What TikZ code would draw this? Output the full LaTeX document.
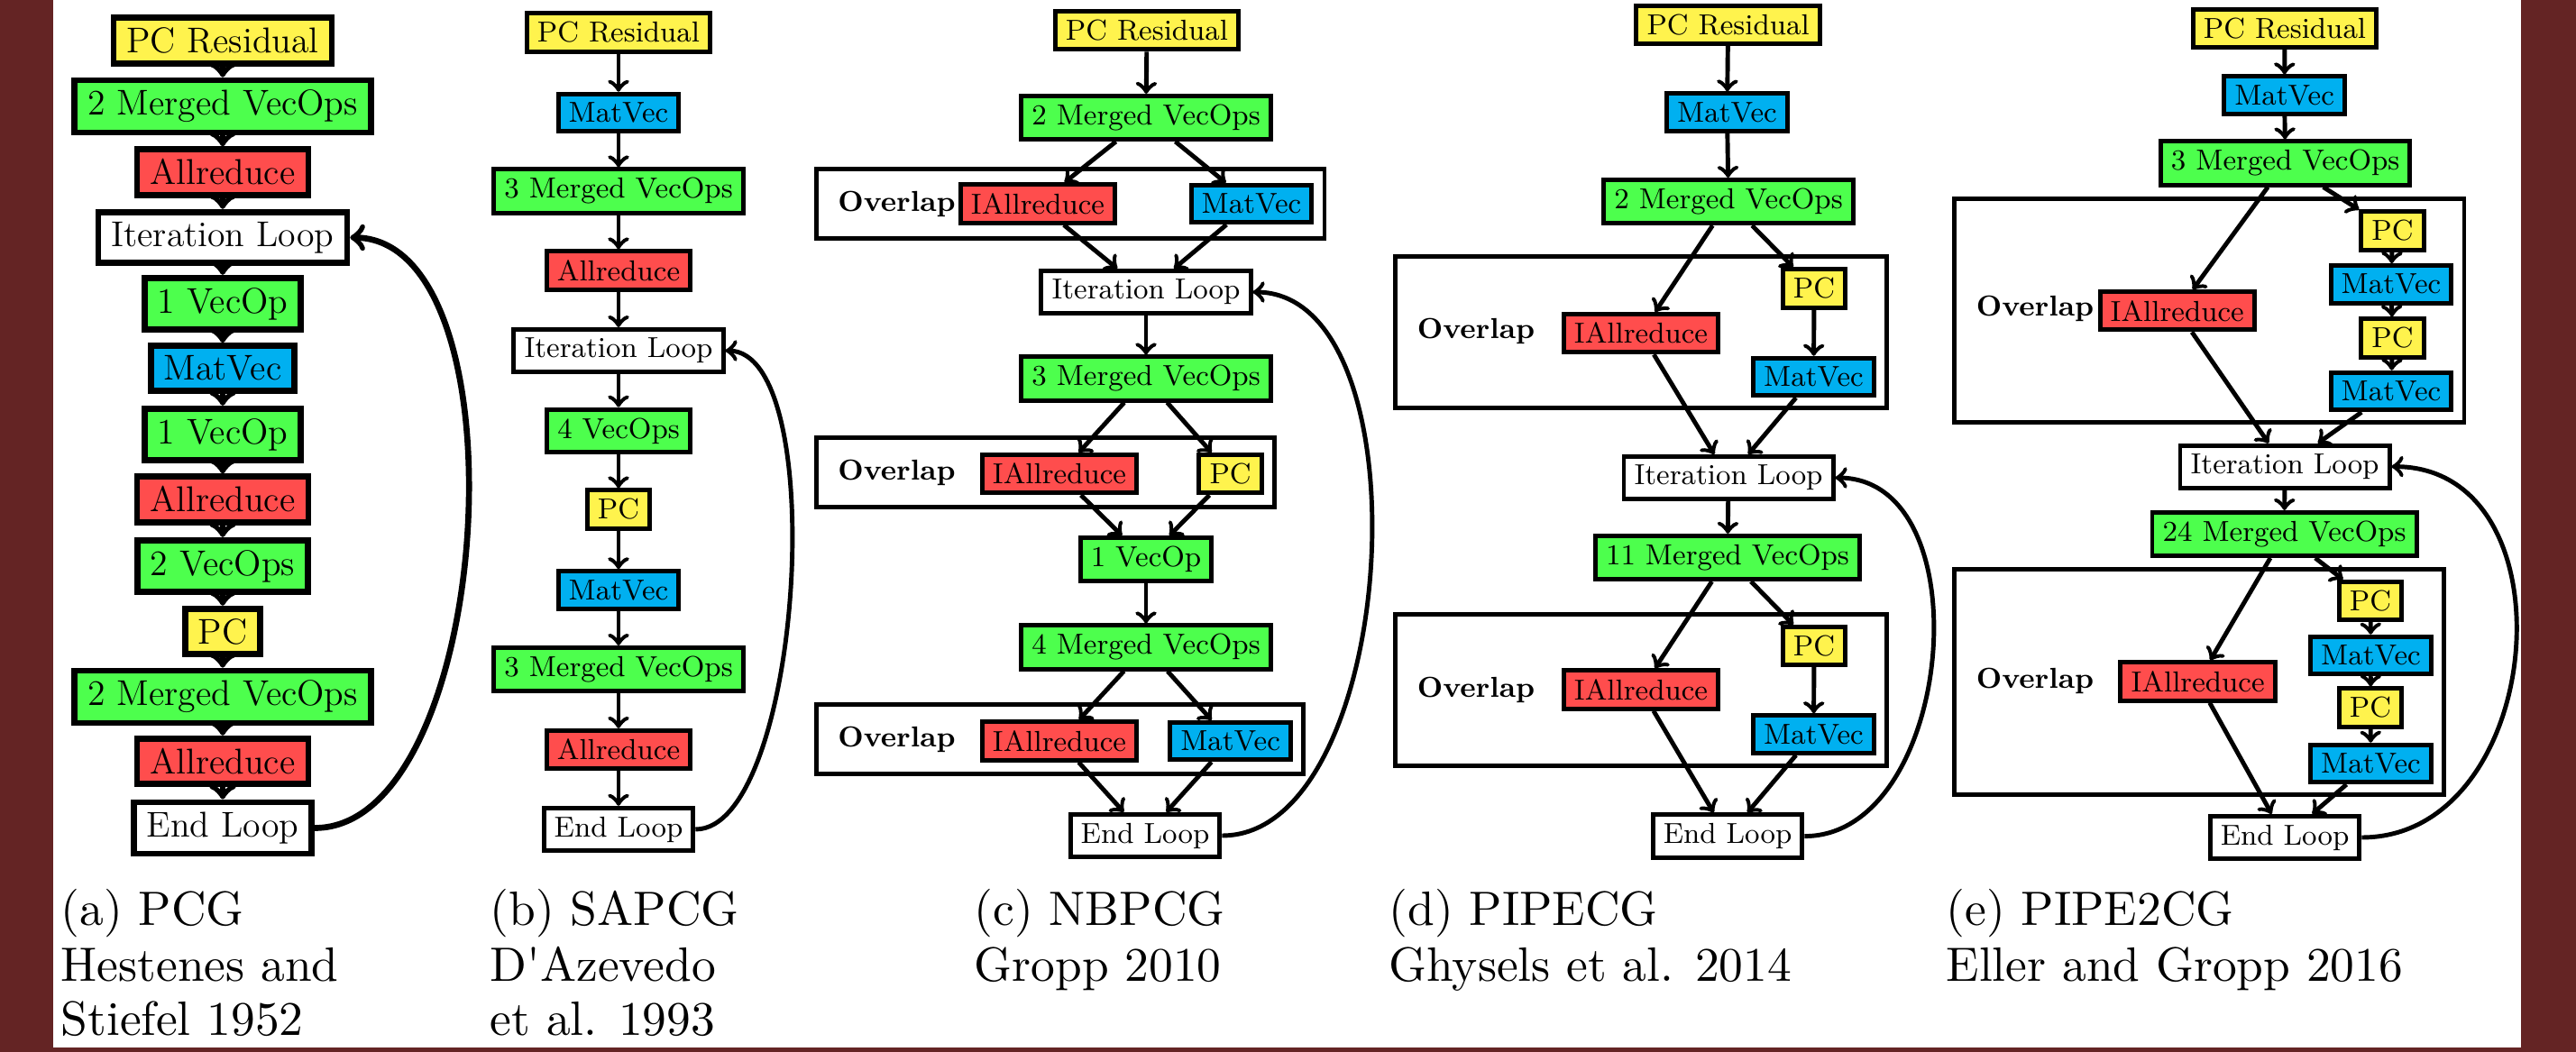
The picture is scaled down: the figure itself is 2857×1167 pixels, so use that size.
\documentclass[tikz,border=0pt]{standalone}
\usepackage{fontspec}
\newfontfamily\capfont{lmroman10-regular.otf}
\usetikzlibrary{fit}
\definecolor{maroon}{RGB}{100,36,36}
\definecolor{cyel}{RGB}{255,243,77}
\definecolor{cgrn}{RGB}{77,255,77}
\definecolor{cred}{RGB}{255,77,77}
\definecolor{cblu}{RGB}{0,176,240}
\begin{document}
\begin{tikzpicture}[x=0.01cm, y=-0.01cm,
  box/.style={draw, line width=1.4pt, inner xsep=3.3pt, inner ysep=2.7pt, font=\fontsize{9.1}{10}\selectfont},
  bigbox/.style={box, line width=1.9pt, inner xsep=4.1pt, inner ysep=3.1pt, font=\fontsize{11.3}{13}\selectfont},
  fy/.style={fill=cyel}, fg/.style={fill=cgrn}, fr/.style={fill=cred},
  fb/.style={fill=cblu}, fw/.style={fill=white},
  arr/.style={->, line width=1.4pt},
  bigarr/.style={->, line width=1.9pt},
  ovl/.style={draw, line width=1.4pt, inner sep=3.3pt},
  ovlab/.style={font=\fontsize{9.1}{10}\selectfont\bfseries, inner sep=3.4pt},
  captxt/.style={font=\capfont\fontsize{15.2}{18}\selectfont, anchor=base west, inner sep=0pt}
]
% background and frame
\useasboundingbox (0,0) rectangle (2857,1167);
\fill[white] (0,0) rectangle (2857,1167);
\fill[maroon] (0,0) rectangle (59,1167);
\fill[maroon] (2796,0) rectangle (2857,1167);
\fill[maroon] (0,1162) rectangle (2857,1167);

% ---------------- (a) PCG ----------------
\node[bigbox,fy] (a1) at (247,45) {PC Residual};
\node[bigbox,fg] (a2) at (247,118) {2 Merged VecOps};
\node[bigbox,fr] (a3) at (247,191) {Allreduce};
\node[bigbox,fw] (a4) at (247,263.5) {Iteration Loop};
\node[bigbox,fg] (a5) at (247,337) {1 VecOp};
\node[bigbox,fb] (a6) at (247,408.5) {MatVec};
\node[bigbox,fg] (a7) at (247,482) {1 VecOp};
\node[bigbox,fr] (a8) at (247,554) {Allreduce};
\node[bigbox,fg] (a9) at (247,628) {2 VecOps};
\node[bigbox,fy] (a10) at (247,700.5) {PC};
\node[bigbox,fg] (a11) at (247,773) {2 Merged VecOps};
\node[bigbox,fr] (a12) at (247,844.5) {Allreduce};
\node[bigbox,fw] (a13) at (247,918.5) {End Loop};
\foreach \i/\j in {1/2,2/3,3/4,4/5,5/6,6/7,7/8,8/9,9/10,10/11,11/12,12/13}
  \draw[bigarr] (a\i) -- (a\j);
\draw[bigarr] (a13.east) .. controls +(199,0) and +(199,0) .. (a4.east);
\node[captxt] (capa1) at (67,1026) {(a) PCG};
\node[captxt] (capa2) at (67,1088) {Hestenes and};
\node[captxt] (capa3) at (67,1148) {Stiefel 1952};

% ---------------- (b) SAPCG ----------------
\node[box,fy] (b1) at (686,36) {PC Residual};
\node[box,fb] (b2) at (686,125) {MatVec};
\node[box,fg] (b3) at (686,212) {3 Merged VecOps};
\node[box,fr] (b4) at (686,300) {Allreduce};
\node[box,fw] (b5) at (686,389) {Iteration Loop};
\node[box,fg] (b6) at (686,478) {4 VecOps};
\node[box,fy] (b7) at (686,565) {PC};
\node[box,fb] (b8) at (686,654.5) {MatVec};
\node[box,fg] (b9) at (686,742.5) {3 Merged VecOps};
\node[box,fr] (b10) at (686,831.5) {Allreduce};
\node[box,fw] (b11) at (686,920) {End Loop};
\foreach \i/\j in {1/2,2/3,3/4,4/5,5/6,6/7,7/8,8/9,9/10,10/11}
  \draw[arr] (b\i) -- (b\j);
\draw[arr] (b11.east) .. controls +(118,0) and +(118,0) .. (b5.east);
\node[captxt] (capb1) at (543,1026) {(b) SAPCG};
\node[captxt] (capb2) at (543,1088) {D'Azevedo};
\node[captxt] (capb3) at (543,1148) {et al. 1993};

% ---------------- (c) NBPCG ----------------
\node[box,fy] (c1) at (1272,33.7) {PC Residual};
\node[box,fg] (c2) at (1271,130.5) {2 Merged VecOps};
\node[box,fr] (c3) at (1151,226) {IAllreduce};
\node[box,fb] (c4) at (1388,226) {MatVec};
\node[box,fw] (c5) at (1271,324) {Iteration Loop};
\node[box,fg] (c6) at (1271,420) {3 Merged VecOps};
\node[box,fr] (c7) at (1175,525.6) {IAllreduce};
\node[box,fy] (c8) at (1364.6,525.6) {PC};
\node[box,fg] (c9) at (1271,620.5) {1 VecOp};
\node[box,fg] (c10) at (1271,718) {4 Merged VecOps};
\node[box,fr] (c11) at (1175,822) {IAllreduce};
\node[box,fb] (c12) at (1364.6,822) {MatVec};
\node[box,fw] (c13) at (1270,927) {End Loop};
\node[ovlab] (cl1) at (994.5,226) {Overlap};
\node[ovlab] (cl2) at (994.5,524) {Overlap};
\node[ovlab] (cl3) at (994.5,820) {Overlap};
\node[ovl, fit=(cl1)(c3)(c4)] (co1) {};
\node[ovl, fit=(cl2)(c7)(c8)] (co2) {};
\node[ovl, fit=(cl3)(c11)(c12)] (co3) {};
\foreach \i/\j in {1/2,2/3,2/4,3/5,4/5,5/6,6/7,6/8,7/9,8/9,9/10,10/11,10/12,11/13,12/13}
  \draw[arr] (c\i) -- (c\j);
\draw[arr] (c13.east) .. controls +(197,0) and +(197,0) .. (c5.east);
\node[captxt] (capc1) at (1080,1026) {(c) NBPCG};
\node[captxt] (capc2) at (1080,1088) {Gropp 2010};

% ---------------- (d) PIPECG ----------------
\node[box,fy] (d1) at (1916.6,27.5) {PC Residual};
\node[box,fb] (d2) at (1915.5,124.7) {MatVec};
\node[box,fg] (d3) at (1917,223.6) {2 Merged VecOps};
\node[box,fy] (d4) at (2012,320) {PC};
\node[box,fr] (d5) at (1820,369.7) {IAllreduce};
\node[box,fb] (d6) at (2011.5,418) {MatVec};
\node[box,fw] (d7) at (1917,530) {Iteration Loop};
\node[box,fg] (d8) at (1916,618.5) {11 Merged VecOps};
\node[box,fy] (d9) at (2012,716.6) {PC};
\node[box,fr] (d10) at (1820,765) {IAllreduce};
\node[box,fb] (d11) at (2011.5,814.5) {MatVec};
\node[box,fw] (d12) at (1916,927.6) {End Loop};
\node[ovlab] (dl1) at (1637,367.4) {Overlap};
\node[ovlab] (dl2) at (1637,765) {Overlap};
\node[ovl, fit=(dl1)(d4)(d5)(d6)] (do1) {};
\node[ovl, fit=(dl2)(d9)(d10)(d11)] (do2) {};
\foreach \i/\j in {1/2,2/3,3/4,3/5,4/6,5/7,6/7,7/8,8/9,8/10,9/11,10/12,11/12}
  \draw[arr] (d\i) -- (d\j);
\draw[arr] (d12.east) .. controls +(166,0) and +(166,0) .. (d7.east);
\node[captxt] (capd1) at (1540,1026) {(d) PIPECG};
\node[captxt] (capd2) at (1540,1088) {Ghysels et al. 2014};

% ---------------- (e) PIPE2CG ----------------
\node[box,fy] (e1) at (2534,31.4) {PC Residual};
\node[box,fb] (e2) at (2533.6,105.7) {MatVec};
\node[box,fg] (e3) at (2534.6,181) {3 Merged VecOps};
\node[box,fr] (e4) at (2414.7,344.8) {IAllreduce};
\node[box,fy] (e5) at (2653.5,256) {PC};
\node[box,fb] (e6) at (2652,315.4) {MatVec};
\node[box,fy] (e7) at (2653.5,375) {PC};
\node[box,fb] (e8) at (2652,434) {MatVec};
\node[box,fw] (e9) at (2534,517.6) {Iteration Loop};
\node[box,fg] (e10) at (2533.5,592.5) {24 Merged VecOps};
\node[box,fr] (e11) at (2437.6,756) {IAllreduce};
\node[box,fy] (e12) at (2629,666.4) {PC};
\node[box,fb] (e13) at (2629.5,727) {MatVec};
\node[box,fy] (e14) at (2629,785) {PC};
\node[box,fb] (e15) at (2629.5,847) {MatVec};
\node[box,fw] (e16) at (2534,929) {End Loop};
\node[ovlab] (el1) at (2257,342.5) {Overlap};
\node[ovlab] (el2) at (2257,755.5) {Overlap};
\node[ovl, fit=(el1)(e4)(e5)(e8)] (eo1) {};
\node[ovl, fit=(el2)(e11)(e12)(e15)] (eo2) {};
\foreach \i/\j in {1/2,2/3,3/4,3/5,5/6,6/7,7/8,4/9,8/9,9/10,10/11,10/12,12/13,13/14,14/15,11/16,15/16}
  \draw[arr] (e\i) -- (e\j);
\draw[arr] (e16.east) .. controls +(205,0) and +(205,0) .. (e9.east);
\node[captxt] (cape1) at (2158,1026) {(e) PIPE2CG};
\node[captxt] (cape2) at (2158,1088) {Eller and Gropp 2016};
\end{tikzpicture}
\end{document}
